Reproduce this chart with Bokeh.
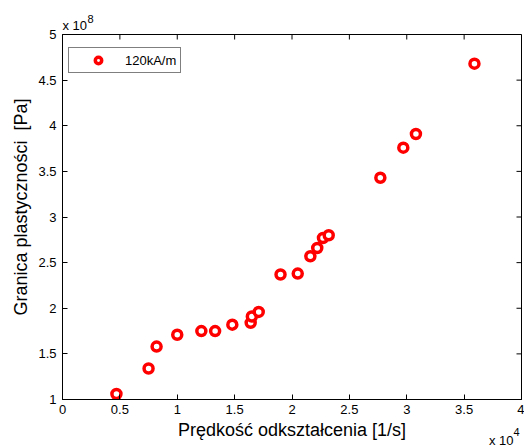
import math
from bokeh.plotting import figure
from bokeh.models import (ColumnDataSource, FixedTicker, Title,
                          Legend, LegendItem, Range1d)
from bokeh.embed import file_html
from bokeh.resources import INLINE

# Data (x in 10^4 1/s, y in 10^8 Pa)
strain_rate = [0.47, 0.75, 0.82, 1.00, 1.21, 1.33, 1.48, 1.64, 1.65, 1.71,
               1.90, 2.05, 2.16, 2.22, 2.27, 2.32, 2.77, 2.97, 3.08, 3.59]
yield_stress = [1.06, 1.34, 1.58, 1.71, 1.75, 1.75, 1.82, 1.84, 1.91, 1.96,
                2.37, 2.38, 2.57, 2.66, 2.77, 2.80, 3.43, 3.76, 3.91, 4.68]
series_name = "120kA/m"
x_ticks = [0, 0.5, 1, 1.5, 2, 2.5, 3, 3.5, 4]
x_tick_labels = ["0", "0.5", "1", "1.5", "2", "2.5", "3", "3.5", "4"]
y_ticks = [1, 1.5, 2, 2.5, 3, 3.5, 4, 4.5, 5]
y_tick_labels = ["1", "1.5", "2", "2.5", "3", "3.5", "4", "4.5", "5"]
exp_base = "x 10"
x_exponent = "4"
y_exponent = "8"
x_label = "Prędkość odkształcenia [1/s]"
y_label = "Granica plastyczności\u00a0 [Pa]"

FONT = "Liberation Sans"

p = figure(width=524, height=446, output_backend="svg", toolbar_location=None,
           x_range=Range1d(0, 4), y_range=Range1d(1, 5),
           min_border_left=62, min_border_right=3, min_border_top=34,
           min_border_bottom=47, x_axis_label=x_label)
p.background_fill_color = "white"
p.border_fill_color = "white"
p.grid.visible = False
p.outline_line_color = "black"
p.outline_line_width = 1

for ax, ticks, labels in ((p.xaxis[0], x_ticks, x_tick_labels),
                          (p.yaxis[0], y_ticks, y_tick_labels)):
    ax.ticker = FixedTicker(ticks=ticks)
    ax.major_label_overrides = {t: l for t, l in zip(ticks, labels)}
    ax.major_tick_in = 5
    ax.major_tick_out = 0
    ax.minor_tick_in = 0
    ax.minor_tick_out = 0
    ax.axis_line_color = "black"
    ax.major_tick_line_color = "black"
    ax.major_label_text_font = FONT
    ax.major_label_text_font_size = "13px"
    ax.major_label_text_color = "black"
    ax.axis_label_text_font = FONT
    ax.axis_label_text_font_size = "18px"
    ax.axis_label_text_font_style = "normal"
    ax.axis_label_text_color = "black"

p.xaxis[0].major_label_standoff = 5
p.xaxis[0].axis_label_standoff = 3
p.yaxis[0].major_label_standoff = 6

# y axis title (placed along the axis like the reference)
p.add_layout(Title(text=y_label, align="left", vertical_align="bottom",
                   text_font=FONT, text_font_size="18px", text_font_style="normal",
                   text_color="black", standoff=10, offset=84), "left")

# mirrored ticks on top and right edges (pointing inward, 5 px)
p.ray(x=x_ticks, y=[y_ticks[-1]] * len(x_ticks), length=5, length_units="screen",
      angle=-math.pi / 2, line_color="black", line_width=1)
p.ray(x=[x_ticks[-1]] * len(y_ticks), y=y_ticks, length=5, length_units="screen",
      angle=math.pi, line_color="black", line_width=1)

src = ColumnDataSource(dict(x=strain_rate, y=yield_stress))
r = p.scatter("x", "y", source=src, size=9, line_color="red", line_width=3.5,
              fill_color="white", marker="circle")

legend = Legend(items=[LegendItem(label=series_name, renderers=[r])],
                location=(6, 326), margin=0, padding=4, spacing=0,
                glyph_width=50, glyph_height=16, label_standoff=2,
                label_text_font=FONT, label_text_font_size="13px",
                label_text_color="black",
                border_line_color="black", border_line_width=1,
                background_fill_alpha=1)
p.add_layout(legend, "center")

# exponent annotations: "x 10" plus raised exponent digit
p.add_layout(Title(text=exp_base, align="left", text_font=FONT,
                   text_font_size="13px", text_font_style="normal", text_color="black",
                   standoff=4, offset=0), "above")
p.add_layout(Title(text=y_exponent, align="left", vertical_align="bottom",
                   text_font=FONT, text_font_size="11px", text_font_style="normal",
                   text_color="black", standoff=-19, offset=25), "above")
p.add_layout(Title(text=exp_base, align="right", vertical_align="top",
                   text_font=FONT, text_font_size="13px", text_font_style="normal",
                   text_color="black", standoff=-20, offset=8), "below")
p.add_layout(Title(text=x_exponent, align="right", vertical_align="top",
                   text_font=FONT, text_font_size="11px", text_font_style="normal",
                   text_color="black", standoff=-30, offset=2), "below")

open("out.html", "w").write(file_html(p, INLINE))
